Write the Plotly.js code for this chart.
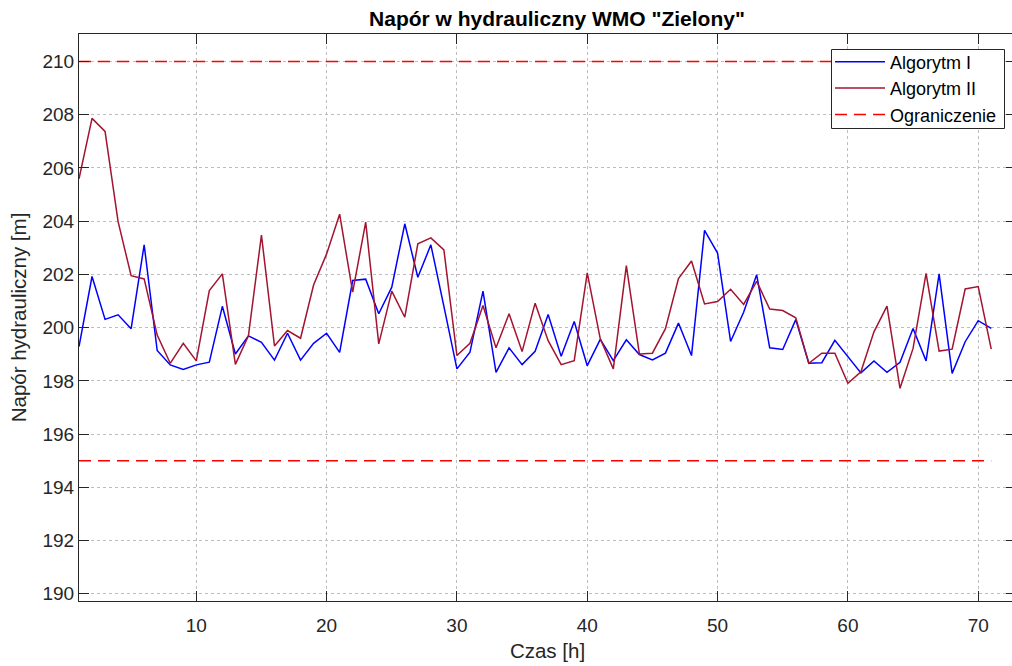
<!DOCTYPE html>
<html>
<head>
<meta charset="utf-8">
<script src="https://cdn.plot.ly/plotly-3.0.1.min.js"></script>
<style>
html,body{margin:0;padding:0;overflow:hidden;background:#fff;}
#chart{width:1016px;height:666px;}
</style>
</head>
<body>
<div id="chart"></div>
<script>
// Czas [h]
const hours = [];
for (let h = 1; h <= 71; h++) hours.push(h);

// Algorytm I
const alg1 = [
  199.29, 201.92, 200.31, 200.48, 199.96, 203.11, 199.14, 198.60, 198.43, 198.60,
  198.70, 200.80, 199.01, 199.69, 199.45, 198.78, 199.79, 198.78, 199.41, 199.79,
  199.07, 201.77, 201.82, 200.52, 201.52, 203.90, 201.89, 203.11, 200.80, 198.45,
  199.08, 201.37, 198.32, 199.24, 198.61, 199.11, 200.49, 198.92, 200.23, 198.57,
  199.56, 198.76, 199.54, 198.99, 198.79, 199.04, 200.17, 198.95, 203.65, 202.80,
  199.48, 200.58, 201.99, 199.24, 199.18, 200.30, 198.66, 198.68, 199.52, 198.90,
  198.30, 198.75, 198.32, 198.70, 199.97, 198.75, 202.02, 198.28, 199.47, 200.26,
  199.97
];

// Algorytm II
const alg2 = [
  205.59, 207.86, 207.37, 203.98, 201.95, 201.83, 199.72, 198.66, 199.41, 198.75,
  201.39, 202.02, 198.62, 199.69, 203.48, 199.31, 199.89, 199.60, 201.60, 202.77,
  204.26, 201.33, 203.96, 199.39, 201.37, 200.39, 203.15, 203.37, 202.92, 198.95,
  199.41, 200.83, 199.24, 200.52, 199.10, 200.92, 199.51, 198.61, 198.76, 202.06,
  199.58, 198.45, 202.33, 199.01, 199.04, 199.96, 201.84, 202.50, 200.89, 200.98,
  201.44, 200.87, 201.74, 200.70, 200.64, 200.37, 198.66, 199.04, 199.04, 197.91,
  198.34, 199.84, 200.81, 197.72, 199.22, 202.04, 199.12, 199.19, 201.45, 201.54,
  199.19
];

// Ograniczenie
const limitX = [1, 71];
const limitUpper = [210, 210];
const limitLower = [195, 195];

const xTicks = [10, 20, 30, 40, 50, 60, 70];
const yTicks = [190, 192, 194, 196, 198, 200, 202, 204, 206, 208, 210];

const FONT = 'Arial, "Liberation Sans", sans-serif';
const TXT = '#262626';

const W = 1016, H = 666;
const M = {l: 79, r: 0, t: 34, b: 65};
const PW = W - M.l - M.r, PH = H - M.t - M.b;
const px2x = p => (p - M.l) / PW;          // pixel -> paper x
const px2y = p => (H - M.b - p) / PH;      // pixel -> paper y

const traces = [
  {x: hours, y: alg1, type: 'scatter', mode: 'lines', name: 'Algorytm I',
   line: {color: '#0000FF', width: 1.5}},
  {x: hours, y: alg2, type: 'scatter', mode: 'lines', name: 'Algorytm II',
   line: {color: '#A2142F', width: 1.5}},
  {x: limitX, y: limitUpper, type: 'scatter', mode: 'lines', name: 'Ograniczenie',
   line: {color: '#FF0000', width: 1.5, dash: '12px,7px'}},
  {x: limitX, y: limitLower, type: 'scatter', mode: 'lines', name: 'Ograniczenie',
   showlegend: false, line: {color: '#FF0000', width: 1.5, dash: '12px,7px'}}
];

const axisCommon = {
  showline: true, linecolor: TXT, linewidth: 1, mirror: 'ticks',
  ticks: 'inside', ticklen: 10, tickwidth: 1, tickcolor: TXT,
  showgrid: true, gridcolor: '#bdbdbd', griddash: 'dot', gridwidth: 1,
  zeroline: false, tickfont: {family: FONT, size: 19, color: TXT}
};

const layout = {
  width: W, height: H,
  margin: M,
  paper_bgcolor: '#fff', plot_bgcolor: '#fff',
  font: {family: FONT, color: TXT},
  title: {text: '<b>Napór w hydrauliczny WMO "Zielony"</b>',
          font: {family: FONT, size: 21, color: '#000'},
          xref: 'container', x: 557 / W, xanchor: 'center',
          yref: 'container', y: 1 - 19 / H, yanchor: 'middle'},
  xaxis: Object.assign({}, axisCommon, {
    range: [1, 72.9], tickvals: xTicks, ticktext: xTicks.map(String),
    ticklabelstandoff: 7,
    title: {text: 'Czas [h]', font: {family: FONT, size: 20.5, color: TXT}, standoff: 8}
  }),
  yaxis: Object.assign({}, axisCommon, {
    range: [189.73, 211.03], tickvals: yTicks, ticktext: yTicks.map(String),
    title: {text: 'Napór hydrauliczny [m]', font: {family: FONT, size: 20.5, color: TXT}, standoff: 10}
  }),
  shapes: [{
    type: 'rect', xref: 'paper', yref: 'paper', layer: 'above',
    x0: px2x(831.5), x1: px2x(1004.5), y0: px2y(128.5), y1: px2y(49.5),
    fillcolor: '#fff', line: {color: TXT, width: 1}
  }],
  showlegend: true,
  legend: {
    x: px2x(830), xanchor: 'left',
    y: px2y(43.5), yanchor: 'top',
    bgcolor: 'rgba(0,0,0,0)', borderwidth: 0,
    itemwidth: 50,
    font: {family: FONT, size: 18, color: '#000'},
    tracegroupgap: 0
  }
};

Plotly.newPlot('chart', traces, layout, {displayModeBar: false, staticPlot: true});
</script>
</body>
</html>
